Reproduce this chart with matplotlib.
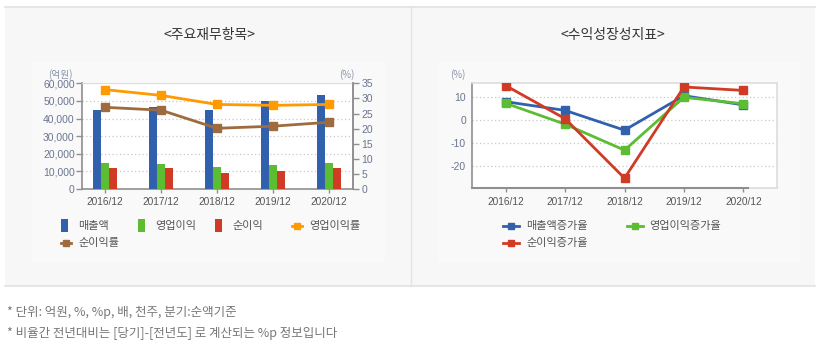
import matplotlib
matplotlib.use("Agg")
import matplotlib.pyplot as plt
from matplotlib.patches import Rectangle
from matplotlib.lines import Line2D
import numpy as np

plt.rcParams['font.family'] = ['Noto Sans CJK KR', 'DejaVu Sans']
plt.rcParams['axes.unicode_minus'] = False

# ---------------- data ----------------
categories = ['2016/12', '2017/12', '2018/12', '2019/12', '2020/12']
revenue = [44900, 46600, 44900, 50000, 53400]          # 매출액 (억원)
op_income = [14800, 14200, 12500, 13600, 14800]        # 영업이익
net_income = [11900, 11900, 9100, 10200, 11900]        # 순이익
op_margin = [32.9, 31.0, 28.0, 27.7, 28.0]             # 영업이익률 (%)
net_margin = [27.05, 26.1, 20.1, 20.8, 22.1]           # 순이익률 (%)

rev_growth = [8.1, 4.3, -4.3, 10.7, 6.7]               # 매출액증가율
op_growth = [7.4, -1.7, -13.0, 10.0, 7.2]              # 영업이익증가율
net_growth = [15.1, 0.7, -25.2, 14.5, 13.0]            # 순이익증가율

left_yticks = [0, 10000, 20000, 30000, 40000, 50000, 60000]
right_yticks = [0, 5, 10, 15, 20, 25, 30, 35]
growth_yticks = [-20, -10, 0, 10]

titles = ['<주요재무항목>', '<수익성장성지표>']
notes = ['* 단위: 억원, %, %p, 배, 천주, 분기:순액기준',
         '* 비율간 전년대비는 [당기]-[전년도] 로 계산되는 %p 정보입니다']

# ---------------- style ----------------
W, H = 821, 346
C_BLUE = '#3161ad'
C_GREEN = '#5cbd33'
C_RED = '#cf3b24'
C_ORANGE = '#ff9a00'
C_BROWN = '#9e6b3e'
C_TICK = '#6a7591'
C_XTICK = '#555555'
C_AXIS = '#8f8f8f'
C_BORDER = '#dddddd'
NUM_FONT = ['Liberation Sans', 'DejaVu Sans']

fig = plt.figure(figsize=(W / 100, H / 100), dpi=100)
fig.patch.set_facecolor('white')


def fx(x):
    return x / W


def fy(y):
    return 1 - y / H


def prect(x0, y0, x1, y1, **kw):
    r = Rectangle((fx(x0), fy(y1)), fx(x1) - fx(x0), fy(y0) - fy(y1),
                  transform=fig.transFigure, **kw)
    fig.patches.append(r)


def pline(x0, y0, x1, y1, **kw):
    fig.lines.append(Line2D([fx(x0), fx(x1)], [fy(y0), fy(y1)],
                            transform=fig.transFigure, **kw))


# panel backgrounds
prect(5, 6, 815, 286, facecolor='#f7f7f7', edgecolor='none', zorder=-3)
prect(32, 62, 385, 262, facecolor='#f9f9f9', edgecolor='none', zorder=-2)
prect(438, 62, 800, 262, facecolor='#f9f9f9', edgecolor='none', zorder=-2)
pline(5, 6.5, 815, 6.5, color='#e2e2e2', lw=1.2, zorder=-1)
pline(5, 285.5, 815, 285.5, color='#e2e2e2', lw=1.2, zorder=-1)
pline(410.5, 6, 410.5, 286, color='#e4e4e4', lw=1, zorder=-1)

fig.text(fx(209), fy(35), titles[0], ha='center', va='center', fontsize=10, color='#333333')
fig.text(fx(613), fy(35), titles[1], ha='center', va='center', fontsize=10, color='#333333')

fig.text(fx(7), fy(312), notes[0], ha='left', va='center', fontsize=9, color='#777777')
fig.text(fx(7), fy(333), notes[1], ha='left', va='center', fontsize=9, color='#777777')

x = np.arange(len(categories))

# ---------------- left chart ----------------
axL = fig.add_axes([fx(81.7), fy(189), fx(353) - fx(81.7), fy(83.3) - fy(189)])
axL.set_facecolor('white')
bw = 0.143
axL.bar(x - bw, revenue, width=bw, color=C_BLUE, zorder=3)
axL.bar(x, op_income, width=bw, color=C_GREEN, zorder=3)
axL.bar(x + bw, net_income, width=bw, color=C_RED, zorder=3)
axL.set_xlim(-0.416, 4.43)
axL.set_ylim(0, 60000)
axL.set_yticks(left_yticks)
axL.set_yticklabels([f'{v:,}' for v in left_yticks])
axL.set_xticks(x)
axL.set_xticklabels(categories)
axL.yaxis.grid(True, linestyle=(0, (1, 2)), color='#c8c8c8', lw=0.9, zorder=0)
axL.set_axisbelow(True)
for s in ['left', 'bottom', 'right']:
    axL.spines[s].set_color(C_AXIS)
    axL.spines[s].set_linewidth(1.2)
axL.spines['top'].set_color(C_BORDER)
axL.tick_params(axis='y', colors=C_AXIS, labelcolor=C_TICK, length=4, width=1, pad=1, labelsize=7.5)
axL.tick_params(axis='x', colors=C_AXIS, labelcolor=C_XTICK, length=3, width=1, pad=3, labelsize=7.3)
for t in axL.get_yticklabels() + axL.get_xticklabels():
    t.set_family(NUM_FONT)

axR = axL.twinx()
axR.plot(x, op_margin, color=C_ORANGE, lw=2, marker='s', ms=5.2, zorder=4)
axR.plot(x, net_margin, color=C_BROWN, lw=2, marker='s', ms=5.2, zorder=4)
axR.set_ylim(0, 35)
axR.set_yticks(right_yticks)
axR.spines['right'].set_color(C_AXIS)
axR.spines['right'].set_linewidth(1.2)
axR.spines['top'].set_visible(False)
axR.spines['left'].set_visible(False)
axR.spines['bottom'].set_visible(False)
axR.tick_params(axis='y', colors=C_AXIS, labelcolor=C_TICK, length=4, width=1, pad=2, labelsize=7.5)
for t in axR.get_yticklabels():
    t.set_family(NUM_FONT)

fig.text(fx(60), fy(75), '(억원)', ha='center', va='center', fontsize=7, color='#8a93a8')
fig.text(fx(347), fy(75), '(%)', ha='center', va='center', fontsize=7, color='#8a93a8')

# ---------------- right chart ----------------
axG = fig.add_axes([fx(471.7), fy(188.3), fx(777.3) - fx(471.7), fy(83.3) - fy(188.3)])
axG.set_facecolor('white')
axG.plot(x, rev_growth, color=C_BLUE, lw=2, marker='s', ms=5.5, zorder=3)
axG.plot(x, op_growth, color=C_GREEN, lw=2, marker='s', ms=5.5, zorder=4)
axG.plot(x, net_growth, color=C_RED, lw=2, marker='s', ms=5.5, zorder=5)
axG.set_xlim(-0.572, 4.572)
axG.set_ylim(-29.6, 16.1)
axG.set_yticks(growth_yticks)
axG.set_xticks(x)
axG.set_xticklabels(categories)
axG.yaxis.grid(True, linestyle=(0, (1, 2)), color='#c8c8c8', lw=0.9, zorder=0)
axG.set_axisbelow(True)
axG.spines['left'].set_color(C_AXIS)
axG.spines['left'].set_linewidth(1.2)
axG.spines['bottom'].set_color(C_BORDER)
axG.spines['top'].set_color(C_BORDER)
axG.spines['right'].set_color(C_BORDER)
axG.spines['top'].set_linewidth(1.2)
axG.spines['right'].set_linewidth(1.2)
axG.spines['bottom'].set_linewidth(1.2)
axG.plot([-0.572, 4.08], [-29.6, -29.6], color=C_AXIS, lw=1.5, clip_on=False, zorder=6)
axG.tick_params(axis='y', colors=C_AXIS, labelcolor=C_TICK, length=0, pad=4, labelsize=7.5)
axG.tick_params(axis='x', colors=C_AXIS, labelcolor=C_XTICK, length=3, width=1, pad=3, labelsize=7.3)
for t in axG.get_yticklabels() + axG.get_xticklabels():
    t.set_family(NUM_FONT)
fig.text(fx(458), fy(75), '(%)', ha='center', va='center', fontsize=7, color='#8a93a8')

# ---------------- legends ----------------
def leg_patch(x0, yc, color, label):
    prect(x0, yc - 6, x0 + 7, yc + 6, facecolor=color, edgecolor='none', zorder=5)
    fig.text(fx(x0 + 17), fy(yc), label, ha='left', va='center', fontsize=8, color='#555555')


def leg_line(x0, x1, yc, color, label, tx):
    pline(x0, yc, x1, yc, color=color, lw=2, zorder=5)
    fig.lines.append(Line2D([fx((x0 + x1) / 2)], [fy(yc)], marker='s', ms=5,
                            color=color, transform=fig.transFigure, zorder=6))
    fig.text(fx(tx), fy(yc), label, ha='left', va='center', fontsize=8, color='#555555')


leg_patch(61, 225.5, C_BLUE, '매출액')
leg_patch(138, 225.5, C_GREEN, '영업이익')
leg_patch(215, 225.5, C_RED, '순이익')
leg_line(292, 302, 225.5, C_ORANGE, '영업이익률', 309)
leg_line(61, 71, 243, C_BROWN, '순이익률', 78)

leg_line(503, 519, 225.5, C_BLUE, '매출액증가율', 526)
leg_line(627, 643, 225.5, C_GREEN, '영업이익증가율', 649)
leg_line(503, 519, 243, C_RED, '순이익증가율', 526)

fig.savefig('out.png', dpi=100, facecolor='white')
